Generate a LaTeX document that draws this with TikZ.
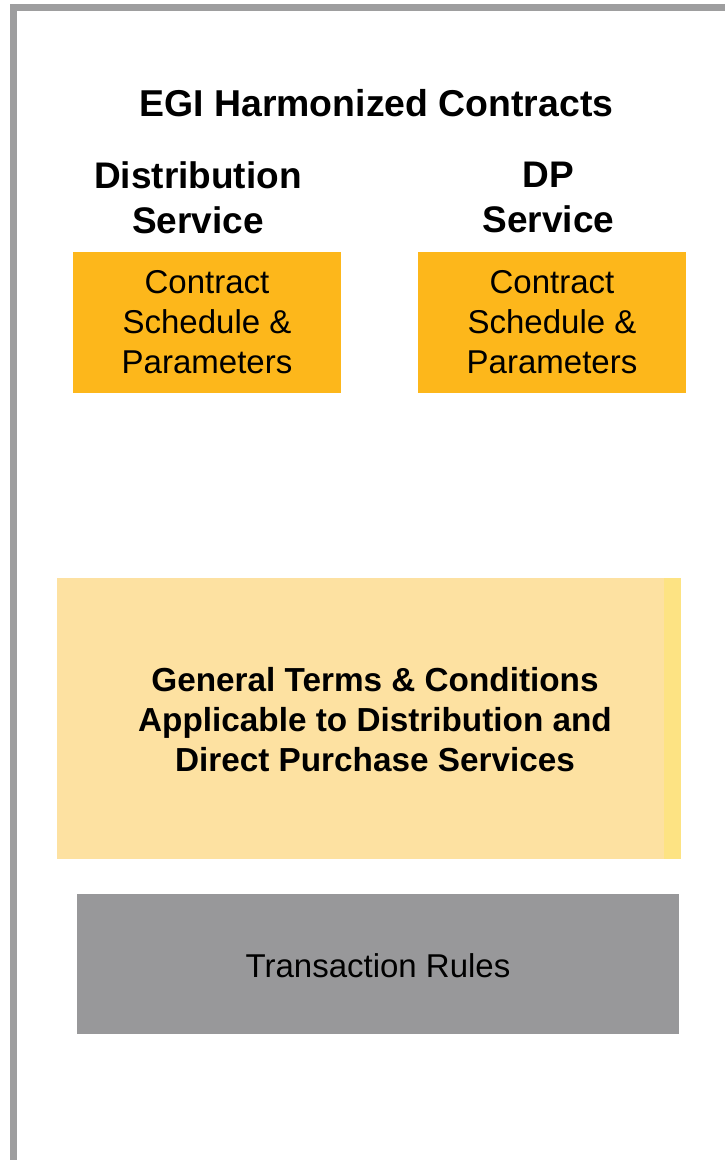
\documentclass[tikz,border=0pt]{standalone}
\usepackage{fontspec}
\setmainfont{Liberation Sans}
\definecolor{frame}{HTML}{9E9E9F}
\definecolor{orange}{HTML}{FDB71B}
\definecolor{sand}{HTML}{FDE1A1}
\definecolor{strip}{HTML}{FDE383}
\definecolor{rules}{HTML}{98989A}
\begin{document}
\begin{tikzpicture}[x=1pt,y=-1pt]
\tikzstyle{every node}+=[inner sep=0pt]
\tikzstyle{head}=[align=center, font=\bfseries\fontsize{37}{45}\selectfont]
\tikzstyle{plain}=[align=center, font=\fontsize{33}{40}\selectfont]
\tikzstyle{schedbox}=[plain, fill=orange, minimum width=268pt, minimum height=141pt]
\useasboundingbox (0,0) rectangle (725,1160);
\draw [frame, line width=7pt] (725,7.5) -- (13.5,7.5) -- (13.5,1160);
\node [head, font=\bfseries\fontsize{37.4}{45}\selectfont] (title) at (376.5,103) {EGI Harmonized Contracts};
\node [head] (distname) at (198,197.5) {Distribution\\Service};
\node [head] (dpname) at (548.5,197.5) {DP\\Service};
\node [schedbox] (distsched) at (207,322.5) {Contract\\Schedule \&\\Parameters};
\node [schedbox] (dpsched) at (552,322.5) {Contract\\Schedule \&\\Parameters};
\node [fill=sand, minimum width=607pt, minimum height=281pt] (gtc) at (360.5,718.5) {};
\node [fill=strip, minimum width=17pt, minimum height=281pt] (gtcstrip) at (672.5,718.5) {};
\node [plain, font=\bfseries\fontsize{33.3}{40}\selectfont] (gtctext) at (375,720)
  {General Terms \& Conditions\\Applicable to Distribution and\\Direct Purchase Services};
\node [plain, fill=rules, minimum width=602pt, minimum height=140pt] (txrules) at (378,964) {};
\node [plain] (txtext) at (378,966) {Transaction Rules};
\end{tikzpicture}
\end{document}
